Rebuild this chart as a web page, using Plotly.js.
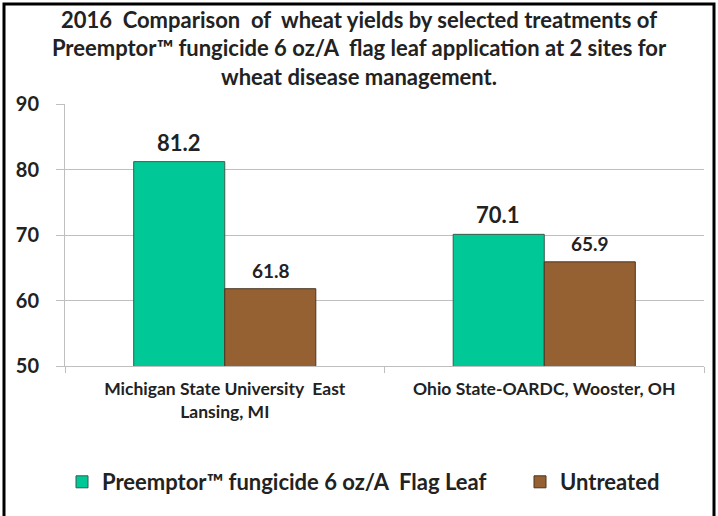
<!DOCTYPE html>
<html>
<head>
<meta charset="utf-8">
<script src="https://cdn.plot.ly/plotly-3.0.1.min.js"></script>
<style>
html,body{margin:0;padding:0;background:#fff;}
#chart{width:718px;height:516px;}
</style>
</head>
<body>
<div id="chart"></div>
<script>
const categories = ["Michigan State University  East<br>Lansing, MI", "Ohio State-OARDC, Wooster, OH"];
const seriesNames = ["Preemptor™ fungicide 6 oz/A  Flag Leaf", "Untreated"];
const preemptor = [81.2, 70.1];
const untreated = [61.8, 65.9];
const yTicks = [50, 60, 70, 80, 90];

const FONT = "Lato, 'Open Sans', sans-serif";
const green = "#00C997";
const brown = "#956132";

const traces = [
  {type:"bar", name:seriesNames[0], x:categories, y:preemptor, legend:"legend",
   marker:{color:green, line:{color:"#3a5a4a", width:1}}, hoverinfo:"x+y"},
  {type:"bar", name:seriesNames[1], x:categories, y:untreated, legend:"legend2",
   marker:{color:brown, line:{color:"#4a3520", width:1}}, hoverinfo:"x+y"}
];

// value labels drawn above each bar
const labelSeries = [
  {vals:preemptor, size:22, shift:-46, lift:4},
  {vals:untreated, size:19, shift:46, lift:5}
];
const annotations = [];
labelSeries.forEach(s => {
  s.vals.forEach((v, j) => {
    annotations.push({x:categories[j], y:v, xref:"x", yref:"y", text:"<b>"+v.toFixed(1)+"</b>",
      showarrow:false, xanchor:"center", yanchor:"bottom", xshift:s.shift, yshift:s.lift,
      font:{family:FONT, size:s.size, color:"#222"}});
  });
});

// chart border in paper coords (plot area 65..704 x, 104..366 y)
const px = v => (v-65)/639, py = v => (366-v)/262;

const legendFont = {family:FONT, size:22, color:"#222", weight:"bold"};

const layout = {
  width:718, height:516,
  margin:{l:65, r:14, t:104, b:150},
  paper_bgcolor:"#fff", plot_bgcolor:"#fff",
  font:{family:FONT, color:"#222"},
  title:{text:"<b>2016  Comparison  of  wheat yields by selected treatments of<br>Preemptor™ fungicide 6 oz/A  flag leaf application at 2 sites for<br>wheat disease management.</b>",
         font:{family:FONT, size:22, color:"#222"}, x:0.5, xanchor:"center", y:0.946, yanchor:"middle"},
  barmode:"group", bargap:0.43, bargroupgap:0,
  xaxis:{type:"category", showline:true, linecolor:"#bfbfbf", linewidth:1,
         ticks:"outside", tickson:"boundaries", ticklen:6, tickcolor:"#bfbfbf",
         ticklabelstandoff:7,
         tickfont:{family:FONT, size:17.5, color:"#222", weight:"bold"}, showgrid:false},
  yaxis:{range:[50,90], tickvals:yTicks, ticktext:yTicks.map(String),
         showline:true, linecolor:"#bfbfbf", linewidth:1,
         ticks:"outside", ticklen:8, tickcolor:"#bfbfbf", ticklabelstandoff:13,
         showgrid:true, gridcolor:"#bfbfbf", gridwidth:1, zeroline:false,
         tickfont:{family:FONT, size:20, color:"#222", weight:"bold"}},
  showlegend:true,
  legend:{orientation:"h", x:px(62), xanchor:"left", y:py(482), yanchor:"middle", font:legendFont},
  legend2:{orientation:"h", x:px(520), xanchor:"left", y:py(482), yanchor:"middle", font:legendFont},
  annotations:annotations,
  shapes:[{type:"rect", xref:"paper", yref:"paper", x0:px(4), x1:px(714), y0:py(4), y1:py(520),
           line:{color:"#000", width:3}, fillcolor:"rgba(0,0,0,0)", layer:"above"}]
};

Plotly.newPlot("chart", traces, layout, {displayModeBar:false, staticPlot:true});
</script>
</body>
</html>
